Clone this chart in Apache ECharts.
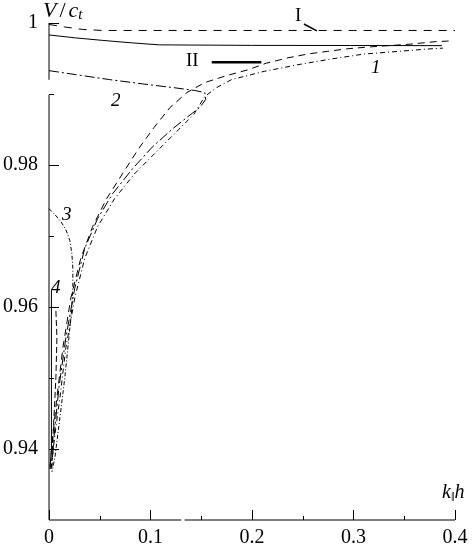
<!DOCTYPE html>
<html>
<head>
<meta charset="utf-8">
<script src="https://cdn.jsdelivr.net/npm/echarts@6/dist/echarts.min.js"></script>
<style>
  html, body { margin: 0; padding: 0; background: #fff; }
  #chart { width: 472px; height: 548px; }
</style>
</head>
<body>
<div id="chart"></div>
<script>
// k||h , V/c_t pairs
const curveI = [[0, 0.99979], [0.0156, 0.99944], [0.0332, 0.99909], [0.0528, 0.99895], [0.1, 0.99895], [0.2, 0.99895], [0.3, 0.99895], [0.4, 0.99895]]
const curveTop = [[0, 0.99832], [0.0264, 0.9979], [0.0528, 0.99755], [0.0821, 0.9972], [0.1085, 0.99692], [0.1994, 0.99685], [0.2972, 0.99683], [0.3871, 0.99681]]
const curveII = [[0.001, 0.93748], [0.0039, 0.9421], [0.0078, 0.94727], [0.0137, 0.95427], [0.0215, 0.96126], [0.0313, 0.96685], [0.043, 0.97133], [0.0567, 0.97524], [0.0723, 0.97874], [0.088, 0.98224], [0.1036, 0.98531], [0.1193, 0.98811], [0.1359, 0.99021], [0.1535, 0.99161], [0.175, 0.99259], [0.1965, 0.99343], [0.2141, 0.99434], [0.2356, 0.9951], [0.2561, 0.99566], [0.2747, 0.99601], [0.2933, 0.99636], [0.3128, 0.9966], [0.3558, 0.99702], [0.3812, 0.99738], [0.3978, 0.99748]]
const curve1 = [[0.002, 0.9372], [0.0059, 0.9421], [0.0108, 0.94727], [0.0166, 0.95427], [0.0254, 0.96126], [0.0352, 0.96685], [0.0479, 0.97133], [0.0645, 0.97524], [0.0841, 0.97874], [0.1036, 0.98154], [0.1232, 0.98434], [0.1427, 0.98713], [0.1535, 0.98965], [0.1652, 0.99091], [0.1799, 0.99203], [0.1994, 0.99273], [0.2121, 0.99319], [0.2454, 0.99413], [0.2776, 0.99492], [0.3099, 0.99562], [0.3431, 0.99599], [0.3754, 0.99636], [0.3881, 0.99646]]
const curve2 = [[0, 0.99329], [0.0264, 0.99273], [0.0596, 0.99203], [0.0919, 0.99143], [0.1241, 0.99087], [0.1437, 0.99049], [0.1535, 0.99021], [0.1544, 0.98923], [0.1486, 0.98811], [0.1359, 0.98671], [0.1212, 0.98503], [0.1017, 0.98252], [0.0821, 0.97944], [0.0626, 0.97594], [0.0479, 0.97245], [0.0352, 0.96825], [0.0254, 0.96266], [0.0166, 0.95566], [0.0098, 0.94867], [0.0049, 0.94168], [0.0029, 0.93748]]
const curve3 = [[0, 0.97385], [0.0059, 0.97301], [0.0117, 0.97203], [0.0166, 0.97091], [0.0205, 0.96937], [0.0225, 0.96755], [0.0235, 0.96545], [0.0235, 0.96266], [0.0225, 0.95986], [0.0196, 0.95566], [0.0156, 0.95007], [0.0108, 0.94448], [0.0059, 0.93888], [0.0029, 0.93678]]
const curve4 = [[0.0024, 0.96238], [0.0024, 0.94028], [0.001, 0.9372]]
const curve4b = [[0.0068, 0.95944], [0.0078, 0.95566], [0.0068, 0.95007], [0.0049, 0.94448], [0.0029, 0.93888], [0.002, 0.9372]]

// pointer strokes for the I and II labels
const leaderI = [[0.2512, 0.99986], [0.2639, 0.99888]]
const leaderII = [[0.1603, 0.99448], [0.2092, 0.99448]]

// broken axis lines
const yAxisLower = [[0, 0.93], [0, 0.9899]]
const yAxisUpper = [[0, 0.992], [0, 1.0]]
const xAxisLeft = [[0, 0.93], [0.1303, 0.93]]
const xAxisRight = [[0.1336, 0.93], [0.4, 0.93]]

const yLabelTicks = [0.94, 0.96, 0.98, 1.0]
const yMinorTicks = [0.95, 0.97, 0.99]

const serif = 'Liberation Serif'

function line(data, type, width) {
  return {
    type: 'line',
    data: data,
    symbol: 'none',
    clip: false,
    silent: true,
    lineStyle: { color: '#000', width: width || 1, type: type || 'solid' }
  }
}

const chart = echarts.init(document.getElementById('chart'))
const option = {
  animation: false,
  grid: { left: 46, right: 17, top: 23, bottom: 26 },
  xAxis: {
    type: 'value',
    min: 0,
    max: 0.4,
    interval: 0.1,
    axisLine: { show: false },
    splitLine: { show: false },
    axisTick: { inside: true, length: 10, lineStyle: { color: '#000' } },
    minorTick: { show: true, splitNumber: 2, length: 4, lineStyle: { color: '#000' } },
    axisLabel: { color: '#000', fontFamily: serif, fontSize: 20, margin: 8 }
  },
  yAxis: [
    {
      type: 'value',
      min: 0.93,
      max: 1.0,
      position: 'left',
      axisLine: { show: false },
      splitLine: { show: false },
      axisTick: { inside: true, length: 10, customValues: yLabelTicks, lineStyle: { color: '#000' } },
      axisLabel: {
        customValues: yLabelTicks,
        color: '#000', fontFamily: serif, fontSize: 20, margin: 11,
        formatter: v => (v >= 0.999 ? '1' : v.toFixed(2))
      }
    },
    {
      type: 'value',
      min: 0.93,
      max: 1.0,
      position: 'left',
      axisLine: { show: false },
      splitLine: { show: false },
      axisLabel: { show: false },
      axisTick: { inside: true, length: 5, customValues: yMinorTicks, lineStyle: { color: '#000' } }
    }
  ],
  series: [
    line(yAxisLower), line(yAxisUpper), line(xAxisLeft), line(xAxisRight),
    line(curveI, [8, 7]),
    line(curveTop),
    line(curveII, [7, 5]),
    line(curve1, [5, 3, 1, 3]),
    line(curve2, [10, 3, 2, 3]),
    line(curve3, [4, 2, 1, 2]),
    line(curve4),
    line(curve4b, [6, 3]),
    line(leaderI, 'solid', 1.5),
    line(leaderII, 'solid', 2.5)
  ],
  graphic: [
    {
      type: 'text', left: 43, top: 0,
      style: {
        text: '{a|V}{b|/}{a|c}{s|t}',
        rich: {
          a: { fontFamily: serif, fontStyle: 'italic', fontSize: 22, fill: '#000' },
          b: { fontFamily: serif, fontSize: 22, fill: '#000', padding: [0, 3, 0, 3] },
          s: { fontFamily: serif, fontStyle: 'italic', fontSize: 15, fill: '#000', padding: [9, 0, 0, 0] }
        }
      }
    },
    {
      type: 'text', left: 442, top: 483,
      style: {
        text: '{a|k}{s|‖}{a|h}',
        rich: {
          a: { fontFamily: serif, fontStyle: 'italic', fontSize: 20, fill: '#000' },
          s: { fontFamily: serif, fontSize: 13, fill: '#000', padding: [10, 0, 0, 0] }
        }
      }
    },
    { type: 'text', left: 295, top: 7, style: { text: 'I', font: '19px "Liberation Serif"', fill: '#000' } },
    { type: 'text', left: 186, top: 52, style: { text: 'II', font: '19px "Liberation Serif"', fill: '#000' } },
    { type: 'text', left: 371, top: 58, style: { text: '1', font: 'italic 19px "Liberation Serif"', fill: '#000' } },
    { type: 'text', left: 111, top: 91, style: { text: '2', font: 'italic 19px "Liberation Serif"', fill: '#000' } },
    { type: 'text', left: 62, top: 205, style: { text: '3', font: 'italic 19px "Liberation Serif"', fill: '#000' } },
    { type: 'text', left: 51, top: 278, style: { text: '4', font: 'italic 19px "Liberation Serif"', fill: '#000' } }
  ]
}
chart.setOption(option)
</script>
</body>
</html>
